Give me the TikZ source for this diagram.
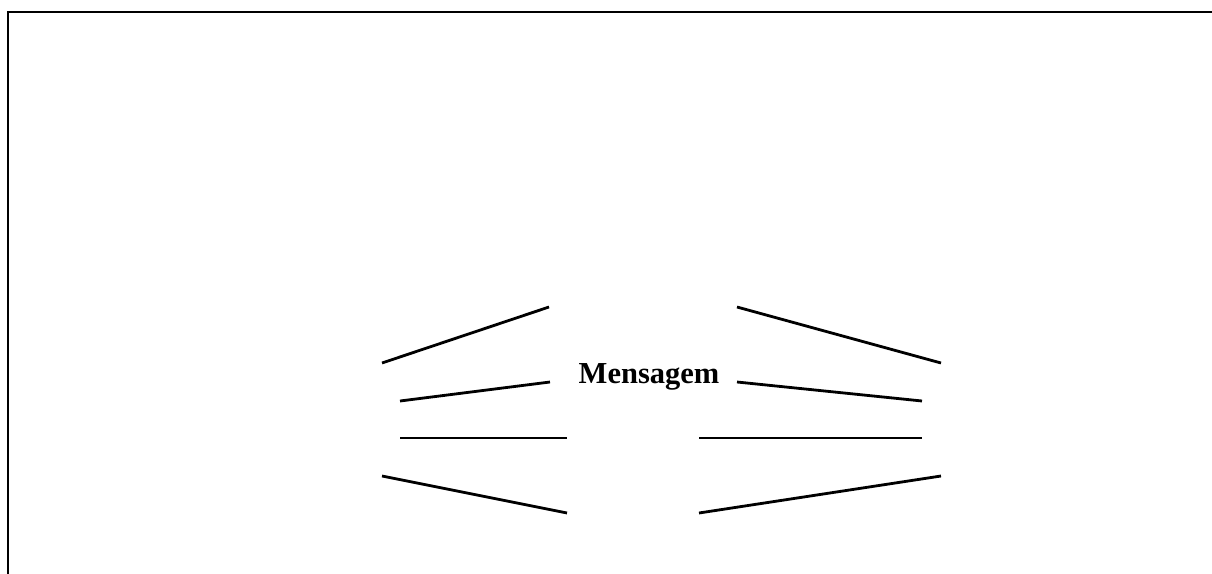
\documentclass[tikz,border=0pt]{standalone}
\usepackage{fontspec}
\setmainfont{Liberation Serif}
\usetikzlibrary{positioning}

\begin{document}
\begin{tikzpicture}[
        x=1pt,
        y=-1pt,
        frame/.style={
          draw,
          line width=2.6pt
          },
        ray/.style={
          draw,
          line width=2.8pt
          },
        msgtext/.style={
          font=\bfseries\fontsize{30.5}{36}\selectfont,
          inner sep=0pt,
          anchor=base
          }
        ]
        \useasboundingbox (0,0) rectangle (1212,573);
        \node[msgtext] (msg) at (649,383) {Mensagem};
        % corners of the frame
        \coordinate (fb) at (8,575);
        \coordinate (fl) at (8,12);
        \coordinate (fr) at (1214,12);
        \draw[frame] (fb) -- (fl) -- (fr);
        % rays left of the message
        \coordinate (la1) at (382,363); \coordinate (lb1) at (549,307);
        \coordinate (la2) at (400,401); \coordinate (lb2) at (550,382);
        \coordinate (la3) at (400,438); \coordinate (lb3) at (567,438);
        \coordinate (la4) at (382,476); \coordinate (lb4) at (567,513);
        % rays right of the message
        \coordinate (ra1) at (737,307); \coordinate (rb1) at (941,363);
        \coordinate (ra2) at (737,382); \coordinate (rb2) at (922,401);
        \coordinate (ra3) at (699,438); \coordinate (rb3) at (922,438);
        \coordinate (ra4) at (699,513); \coordinate (rb4) at (941,476);
        \foreach \ai in {1,2,...,4}
        {
          \draw[ray] (la\ai) -- (lb\ai);
          \draw[ray] (ra\ai) -- (rb\ai);
        }
        \end{tikzpicture}
\end{document}
